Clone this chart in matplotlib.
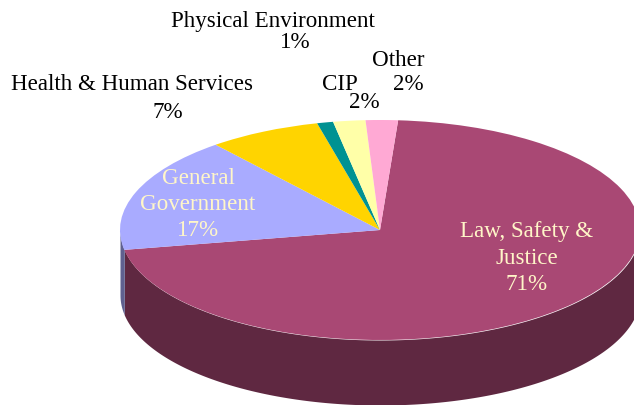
import matplotlib.pyplot as plt
from matplotlib.colors import to_rgb
import numpy as np

plt.rcParams['font.family'] = ['Liberation Serif', 'DejaVu Serif']

# budget shares, clockwise from the big slice
categories = ['Law, Safety &\nJustice', 'General\nGovernment', 'Health & Human Services',
              'Physical Environment', 'CIP', 'Other']
shares = [71, 17, 7, 1, 2, 2]
colors = ['#A94874', '#A9ABFF', '#FFD400', '#009292', '#FFFFA8', '#FFA9D4']

W, H = 634, 405
cx, cy = 380, 230       # pie centre in pixels, y from top
rx, ry = 260, 110       # ellipse radii
depth = 65 / ry         # wall height in y data units
start = 86

fig = plt.figure(figsize=(W / 100, H / 100), dpi=100)
ax = fig.add_axes([0, 0, 1, 1])

wedges, _ = ax.pie(shares, colors=colors, startangle=start, counterclock=False,
                   wedgeprops={'linewidth': 0, 'zorder': 3})

# squash the circle to an ellipse through the axis limits
ax.set_aspect('auto')
ax.set_xlim(-cx / rx, (W - cx) / rx)
ax.set_ylim(-(H - cy) / ry, cy / ry)

# side wall, only the part of each slice facing front
edges = start - 3.6 * np.cumsum([0] + shares)
for i in range(len(shares)):
    t = np.radians(np.linspace(edges[i], edges[i + 1], 400))
    t = t[np.sin(t) <= 0]
    if len(t) == 0:
        continue
    x = np.cos(t)
    y = np.sin(t)
    wall = np.array(to_rgb(colors[i])) * 0.56
    ax.fill_between(x, y - depth, y, color=wall, linewidth=0, zorder=2)

# labels, one text per line so the spacing can differ per label
cream = '#FFF6C8'
label_lines = [
    (0, cream, [(527, 232), (527, 258)], (527, 285)),
    (1, cream, [(198, 179), (198, 205)], (198, 230)),
    (2, 'black', [(132, 85)], (168, 112)),
    (3, 'black', [(273, 22)], (295, 43)),
    (4, 'black', [(340, 84)], (364, 103)),
    (5, 'black', [(398, 61)], (408, 85)),
]
for idx, col, name_pos, val_pos in label_lines:
    for line, (px, py) in zip(categories[idx].split('\n'), name_pos):
        fig.text(px / W, 1 - py / H, line, color=col, fontsize=16.6, ha='center', va='center')
    fig.text(val_pos[0] / W, 1 - val_pos[1] / H, f'{shares[idx]}%', color=col,
             fontsize=16.6, ha='center', va='center')

fig.savefig('out.png', dpi=100)
